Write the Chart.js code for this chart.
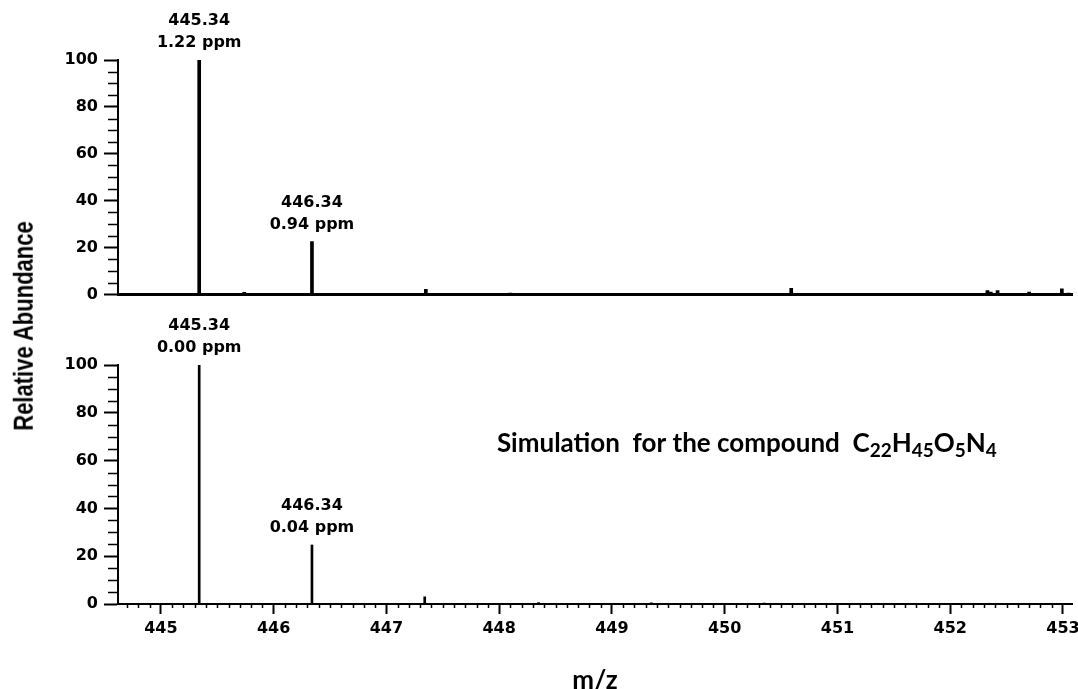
<!DOCTYPE html>
<html>
<head>
<meta charset="utf-8">
<script src="https://cdn.jsdelivr.net/npm/chart.js@4.4.1/dist/chart.umd.min.js"></script>
<style>
  body { margin: 0; background: #fff; }
  #cadre { position: relative; width: 1078px; height: 689px; }
  #grapheHaut { position: absolute; left: 0; top: 0; }
  #grapheBas { position: absolute; left: 0; top: 310px; }
  #titreY {
    position: absolute; left: 24px; top: 326px;
    transform: translate(-50%, -50%) rotate(-90deg) scale(1, 1.25);
    font: bold 22px "Liberation Sans"; color: #000; white-space: nowrap;
  }
</style>
</head>
<body>
<div id="cadre">
  <canvas id="grapheHaut" width="1078" height="310"></canvas>
  <canvas id="grapheBas" width="1078" height="379"></canvas>
  <div id="titreY">Relative Abundance</div>
</div>
<script>
// Spectre mesuré (haut)
const mesureMz = [444.93, 445.23, 445.34, 445.74, 446.03, 446.34, 447.35, 448.10, 449.23, 450.59, 452.33, 452.36, 452.42, 452.70, 452.99, 453.05];
const mesureAbond = [0.5, 0.5, 100, 0.9, 0.5, 22.5, 2.2, 0.6, 0.5, 2.6, 1.6, 1.0, 1.6, 1.0, 2.4, 0.6];

// Spectre simulé (bas)
const simuMz = [445.34, 446.34, 447.34, 448.35, 449.35, 450.35, 451.35, 452.35];
const simuAbond = [100, 24.7, 3.0, 0.6, 0.5, 0.4, 0.3, 0.3];

// Etiquettes des pics
const picsHautMz = [445.34, 446.34];
const picsHautTexte = [['445.34', '1.22 ppm'], ['446.34', '0.94 ppm']];
const picsBasMz = [445.34, 446.34];
const picsBasTexte = [['445.34', '0.00 ppm'], ['446.34', '0.04 ppm']];

// Graduations
const yTicks = [0, 20, 40, 60, 80, 100];
const xTicks = [445, 446, 447, 448, 449, 450, 451, 452, 453];
const xMin = 444.62;
const xMax = 453.08;

const policeTicks = { family: 'DejaVu Sans', weight: 'bold', size: 16 };

function versPoints(mz, abond) {
  return mz.map((m, i) => ({ x: m, y: abond[i] }));
}

// etiquettes au dessus des pics
function pluginEtiquettes(mzListe, textes, mz, abond) {
  return {
    id: 'etiquettes',
    afterDatasetsDraw(chart) {
      const ctx = chart.ctx;
      const x = chart.scales.x, y = chart.scales.y;
      ctx.save();
      ctx.font = 'bold 16px "DejaVu Sans"';
      ctx.fillStyle = '#000';
      ctx.textAlign = 'center';
      ctx.textBaseline = 'middle';
      mzListe.forEach((m, i) => {
        const h = abond[mz.indexOf(m)];
        const px = x.getPixelForValue(m);
        const py = y.getPixelForValue(h);
        ctx.fillText(textes[i][0], px, py - 39);
        ctx.fillText(textes[i][1], px, py - 17);
      });
      ctx.restore();
    }
  };
}

// petites graduations
function pluginGraduations(avecX) {
  return {
    id: 'graduations',
    afterDraw(chart) {
      const ctx = chart.ctx;
      const y = chart.scales.y;
      ctx.save();
      ctx.strokeStyle = '#000';
      ctx.lineWidth = 1.5;
      ctx.beginPath();
      for (let v = 5; v < 100; v += 5) {
        if (v % 20 === 0) continue;
        const py = Math.round(y.getPixelForValue(v)) + 0.5;
        ctx.moveTo(y.right - 10, py);
        ctx.lineTo(y.right, py);
      }
      if (avecX) {
        const x = chart.scales.x;
        for (let k = 4447; k <= 4530; k++) {
          if (k % 10 === 0) continue;
          const px = Math.round(x.getPixelForValue(k / 10)) + 0.5;
          ctx.moveTo(px, x.top);
          ctx.lineTo(px, x.top + 4);
        }
      }
      ctx.stroke();
      ctx.restore();
    }
  };
}

// texte de la simulation avec indices
const pluginSimulation = {
  id: 'simulation',
  afterDraw(chart) {
    const ctx = chart.ctx;
    const x = chart.scales.x, y = chart.scales.y;
    let px = x.getPixelForValue(447.98);
    const py = y.getPixelForValue(63.4);
    const morceaux = [['Simulation  for the compound  C', false], ['22', true], ['H', false], ['45', true], ['O', false], ['5', true], ['N', false], ['4', true]];
    ctx.save();
    ctx.fillStyle = '#000';
    ctx.textAlign = 'left';
    ctx.textBaseline = 'alphabetic';
    morceaux.forEach(([t, indice]) => {
      ctx.font = indice ? 'bold 19px Lato' : 'bold 26px Lato';
      ctx.fillText(t, px, indice ? py + 5 : py);
      px += ctx.measureText(t).width;
    });
    ctx.restore();
  }
};

function axeY() {
  return {
    min: 0, max: 100,
    afterBuildTicks: s => { s.ticks = yTicks.map(v => ({ value: v })); },
    afterFit: s => { s.width = 118; },
    ticks: { color: '#000', font: policeTicks, padding: 6 },
    grid: { drawOnChartArea: false, drawTicks: true, tickLength: 14, tickWidth: 2, tickColor: '#000' },
    border: { color: '#000', width: 2 }
  };
}

const grapheHaut = new Chart(document.getElementById('grapheHaut').getContext('2d'), {
  type: 'bar',
  data: {
    datasets: [{
      data: versPoints(mesureMz, mesureAbond),
      backgroundColor: '#000',
      borderWidth: 0,
      barThickness: 3
    }]
  },
  options: {
    responsive: false,
    animation: false,
    layout: { padding: { top: 60, left: 0, right: 6, bottom: 0 } },
    plugins: { legend: { display: false }, tooltip: { enabled: false } },
    scales: {
      x: {
        type: 'linear', min: xMin, max: xMax, offset: false,
        afterFit: s => { s.height = 11; s.paddingLeft = 0; s.paddingRight = 0; },
        ticks: { display: false },
        grid: { display: false, offset: false },
        border: { color: '#000', width: 3 }
      },
      y: axeY()
    }
  },
  plugins: [pluginEtiquettes(picsHautMz, picsHautTexte, mesureMz, mesureAbond), pluginGraduations(false)]
});

const grapheBas = new Chart(document.getElementById('grapheBas').getContext('2d'), {
  type: 'bar',
  data: {
    datasets: [{
      data: versPoints(simuMz, simuAbond),
      backgroundColor: '#000',
      borderWidth: 0,
      barThickness: 2
    }]
  },
  options: {
    responsive: false,
    animation: false,
    layout: { padding: { top: 55, left: 0, right: 6, bottom: 0 } },
    plugins: { legend: { display: false }, tooltip: { enabled: false } },
    scales: {
      x: {
        type: 'linear', min: xMin, max: xMax, offset: false,
        afterBuildTicks: s => { s.ticks = xTicks.map(v => ({ value: v })); },
        afterFit: s => { s.height = 85; s.paddingLeft = 0; s.paddingRight = 0; },
        ticks: { color: '#000', font: policeTicks, padding: 5, maxRotation: 0, autoSkip: false },
        grid: { drawOnChartArea: false, drawTicks: true, offset: false, tickLength: 10, tickWidth: 2, tickColor: '#000' },
        border: { color: '#000', width: 2 },
        title: {
          display: true, text: 'm/z', color: '#000',
          font: { family: 'Lato', weight: 'bold', size: 26, lineHeight: 0.62 },
          padding: 0
        }
      },
      y: axeY()
    }
  },
  plugins: [pluginEtiquettes(picsBasMz, picsBasTexte, simuMz, simuAbond), pluginGraduations(true), pluginSimulation]
});
</script>
</body>
</html>
